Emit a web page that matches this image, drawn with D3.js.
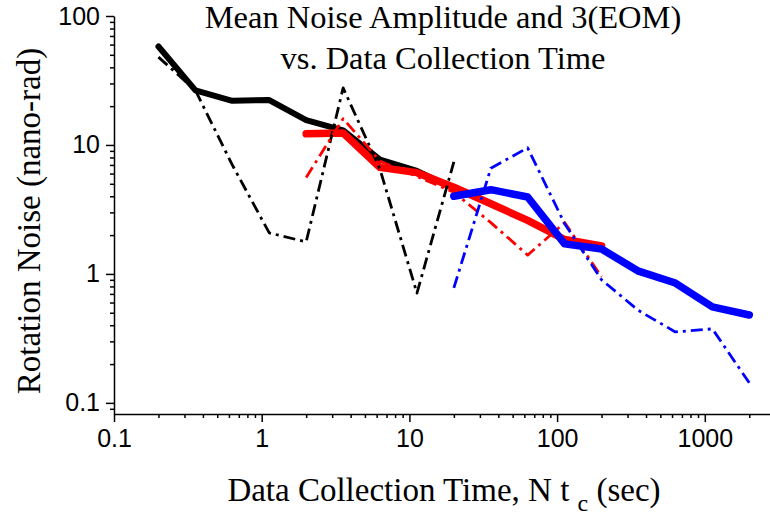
<!doctype html>
<html>
  <head>
    <script src="https://cdnjs.cloudflare.com/ajax/libs/d3/7.8.5/d3.min.js"></script>
    <style>
      body { margin: 0; background: #fff; }
      svg { display: block; }
    </style>
  </head>
  <body>
    <svg></svg>
    <script>
      var width = 770,
          height = 520;

      // collection times (sec)
      var times = [0.2, 0.356, 0.632, 1.125, 2, 3.56, 6.32, 11.25, 20, 35.6, 63.2, 112.5, 200, 356, 632, 1125, 2000];

      // mean noise amplitude (solid) and 3(EOM) (dash-dot), nano-rad
      var blackMean = [58, 26.5, 22, 22.3, 15.6, 13.0, 7.7, 6.3, 4.6];
      var blackEom  = [48, 26.5, 7.0, 2.08, 1.77, 27.7, 6.5, 0.71, 7.4];
      var redMean   = [12.2, 12.4, 6.7, 6.1, 4.7, 3.5, 2.6, 1.85, 1.65];
      var redEom    = [5.6, 16, 7.5, 5.7, 4.3, 2.5, 1.4, 2.5, 0.95];
      var blueMean  = [4.0, 4.5, 3.95, 1.71, 1.56, 1.05, 0.85, 0.555, 0.48];
      var blueEom   = [0.78, 6.6, 9.5, 2.45, 0.9, 0.52, 0.355, 0.375, 0.143];

      var xTicks = [0.1, 1, 10, 100, 1000];
      var yTicks = [0.1, 1, 10, 100];

      var svg = d3.select("svg").attr("width", width).attr("height", height);

      var x = d3.scaleLog().domain([0.1, 3000]).range([114, 114 + 147.7 * Math.log10(30000)]);
      var y = d3.scaleLog().domain([0.082, 100]).range([414, 16]);

      // minor ticks
      var xMinor = [], yMinor = [];
      [0.1, 1, 10, 100, 1000].forEach(function(d) {
        for (var k = 2; k <= 9; k++) if (d * k <= 3000) xMinor.push(d * k);
      });
      [0.01, 0.1, 1, 10].forEach(function(d) {
        for (var k = 2; k <= 9; k++) if (d * k >= 0.082 && d * k <= 100) yMinor.push(d * k);
      });

      var fmt = function(d) { return d >= 1 ? String(d) : "0.1"; };

      svg.append("g")
        .attr("transform", "translate(0," + 414 + ")")
        .call(d3.axisBottom(x).tickValues(xMinor).tickSize(4).tickFormat(""))
        .call(g => g.select(".domain").remove());
      svg.append("g")
        .attr("transform", "translate(114,0)")
        .call(d3.axisLeft(y).tickValues(yMinor).tickSize(4).tickFormat(""))
        .call(g => g.select(".domain").remove());

      var xAxis = svg.append("g")
        .attr("transform", "translate(0," + 414 + ")")
        .call(d3.axisBottom(x).tickValues(xTicks).tickSize(8).tickSizeOuter(0).tickPadding(7).tickFormat(fmt));
      var yAxis = svg.append("g")
        .attr("transform", "translate(114,0)")
        .call(d3.axisLeft(y).tickValues(yTicks).tickSize(8).tickSizeOuter(0).tickPadding(6).tickFormat(fmt));

      svg.selectAll(".tick line, .domain").attr("stroke", "#000").attr("stroke-width", 1.5);
      svg.selectAll(".tick text")
        .attr("font-family", "'Liberation Sans', Arial, sans-serif")
        .attr("font-size", 25)
        .attr("fill", "#000");

      var line = d3.line()
        .x(d => x(d[0]))
        .y(d => y(d[1]));

      function pairs(start, vals) {
        return vals.map((v, i) => [times[start + i], v]);
      }

      var series = [
        { data: pairs(0, blackMean), color: "#000", w: 6, dash: null },
        { data: pairs(4, redMean),   color: "#ff0000", w: 7.5, dash: null },
        { data: pairs(0, blackEom),  color: "#000", w: 2.8, dash: "12,5,3,5" },
        { data: pairs(4, redEom),    color: "#ff0000", w: 2.8, dash: "12,5,3,5" },
        { data: pairs(8, blueMean),  color: "#0000ff", w: 7.5, dash: null },
        { data: pairs(8, blueEom),   color: "#0000ff", w: 2.8, dash: "12,5,3,5" }
      ];

      svg.selectAll("path.series").data(series)
        .enter()
        .append("path")
          .attr("class", "series")
          .attr("d", d => line(d.data))
          .attr("fill", "none")
          .attr("stroke", d => d.color)
          .attr("stroke-width", d => d.w)
          .attr("stroke-linejoin", "round")
          .attr("stroke-linecap", d => d.dash ? "butt" : "round")
          .attr("stroke-dasharray", d => d.dash);

      var serif = "'Liberation Serif', 'Times New Roman', serif";

      // title
      svg.append("text")
        .attr("x", 443).attr("y", 28)
        .attr("text-anchor", "middle")
        .attr("font-family", serif).attr("font-size", 32.5)
        .text("Mean Noise Amplitude and 3(EOM)");
      svg.append("text")
        .attr("x", 443).attr("y", 69)
        .attr("text-anchor", "middle")
        .attr("font-family", serif).attr("font-size", 32.5)
        .text("vs. Data Collection Time");

      // axis titles
      var xl = svg.append("text")
        .attr("x", 444).attr("y", 501)
        .attr("text-anchor", "middle")
        .attr("font-family", serif).attr("font-size", 33);
      xl.append("tspan").text("Data Collection Time, N t ");
      xl.append("tspan").attr("font-size", 24).attr("dy", 10).text("c");
      xl.append("tspan").attr("dy", -10).text(" (sec)");

      svg.append("text")
        .attr("transform", "translate(40,221) rotate(-90)")
        .attr("text-anchor", "middle")
        .attr("font-family", serif).attr("font-size", 33)
        .text("Rotation Noise (nano-rad)");
    </script>
  </body>
</html>
